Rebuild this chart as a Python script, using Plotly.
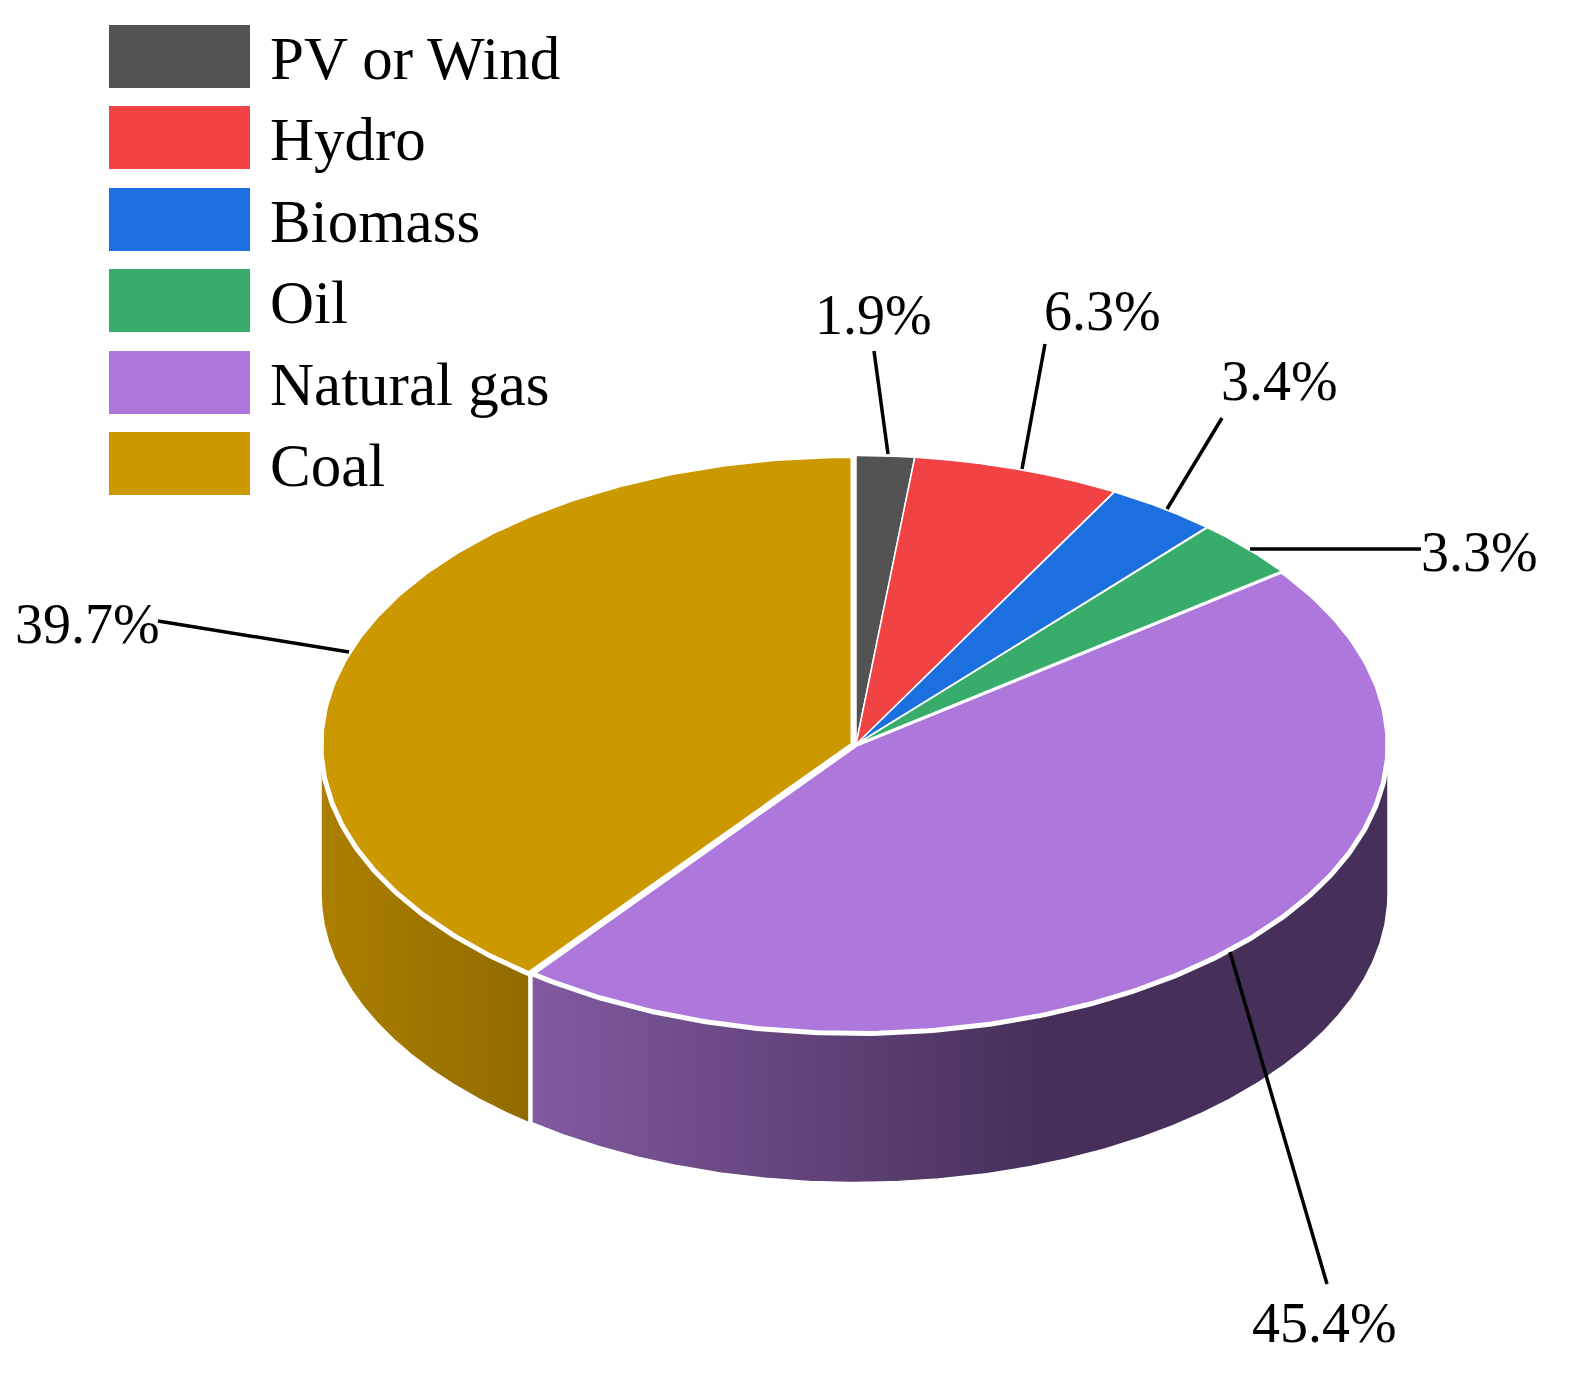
import numpy as np
import plotly.graph_objects as go

categories = ["PV or Wind", "Hydro", "Biomass", "Oil", "Natural gas", "Coal"]
values = [1.9, 6.3, 3.4, 3.3, 45.4, 39.7]
colors = ["#535353", "#F24344", "#1B6FDF", "#38AD6B", "#AE77DC", "#CB9800"]
value_labels = ["1.9%", "6.3%", "3.4%", "3.3%", "45.4%", "39.7%"]

W, H = 1571, 1375
CX, CY, RX, RY, DEPTH = 856.0, 744.5, 532.0, 289.0, 149.0
ROT = -0.5
ROT_COAL = 0.45
FONT = "Liberation Serif"

fracs = np.cumsum([0] + values) / sum(values) * 360.0
fracs[1:5] += ROT
fracs[5] += ROT_COAL


def rim(a0, a1, cx=CX, cy=CY, n=240):
    t = np.radians(np.linspace(a0, a1, n))
    return cx + RX * np.sin(t), cy - RY * np.cos(t)


fig = go.Figure()

# side walls: only the front-facing arcs
side_specs = [
    (90.0, fracs[5], 0, [[0, "#815A9F"], [0.6, "#46305A"], [1, "#46305A"]], "Natural gas side"),
    (fracs[5], 270.0, -3, [[0, "#AC7F00"], [1, "#916B00"]], "Coal side"),
]
for a0, a1, dx, scale, name in side_specs:
    x, y = rim(a0, a1, cx=CX + dx)
    px = np.concatenate([x, x[::-1], x[:1]])
    py = np.concatenate([y, y[::-1] + DEPTH, y[:1]])
    fig.add_trace(go.Scatter(
        x=px, y=py, mode="lines", fill="toself", name=name,
        line=dict(color="white", width=1.5),
        fillgradient=dict(type="horizontal", colorscale=scale),
        hoverinfo="skip", showlegend=False,
    ))

# top surface: thicker white edges round the two large slices
order = [4, 5, 0, 1, 2, 3]
for i in order:
    dx = -3 if i == 5 else 0
    x, y = rim(fracs[i], fracs[i + 1], cx=CX + dx)
    px = np.concatenate([[CX + dx], x, [CX + dx]])
    py = np.concatenate([[CY], y, [CY]])
    fig.add_trace(go.Scatter(
        x=px, y=py, mode="lines", fill="toself", name=categories[i],
        fillcolor=colors[i],
        line=dict(color="white", width=5 if i >= 4 else 1.5),
        hoverinfo="name", showlegend=False,
    ))

# leader lines
leaders = [
    (874, 351, 888, 454), (1045, 344, 1022, 469), (1222, 418, 1167, 509),
    (1421, 549, 1250, 549), (1327, 1284, 1230, 952), (158, 621, 349, 652),
]
for x0, y0, x1, y1 in leaders:
    fig.add_shape(type="line", x0=x0, y0=y0, x1=x1, y1=y1, line=dict(color="black", width=3.5))

label_pos = [(873, 315), (1102, 311), (1279, 381), (1479, 552), (1324, 1323), (87, 624)]
for txt, (lx, ly) in zip(value_labels, label_pos):
    fig.add_annotation(x=lx, y=ly, text=txt, showarrow=False, xanchor="center", yanchor="middle",
                       font=dict(family=FONT, size=56, color="black"))

# legend
legend_tops = [25, 106, 188, 269, 351, 432]
for name, col, top in zip(categories, colors, legend_tops):
    fig.add_shape(type="rect", x0=109, x1=250, y0=top, y1=top + 63,
                  fillcolor=col, line=dict(width=0))
    fig.add_annotation(x=268, y=top + 33, text=name, showarrow=False, xanchor="left", yanchor="middle",
                       font=dict(family=FONT, size=61, color="black"))

fig.update_layout(
    width=W, height=H, margin=dict(l=0, r=0, t=0, b=0),
    paper_bgcolor="white", plot_bgcolor="white", showlegend=False,
    xaxis=dict(range=[0, W], visible=False, fixedrange=True),
    yaxis=dict(range=[H, 0], visible=False, fixedrange=True),
)
fig.write_html("out.html", post_script="document.body.style.margin='0';",
               config={"displayModeBar": False})
